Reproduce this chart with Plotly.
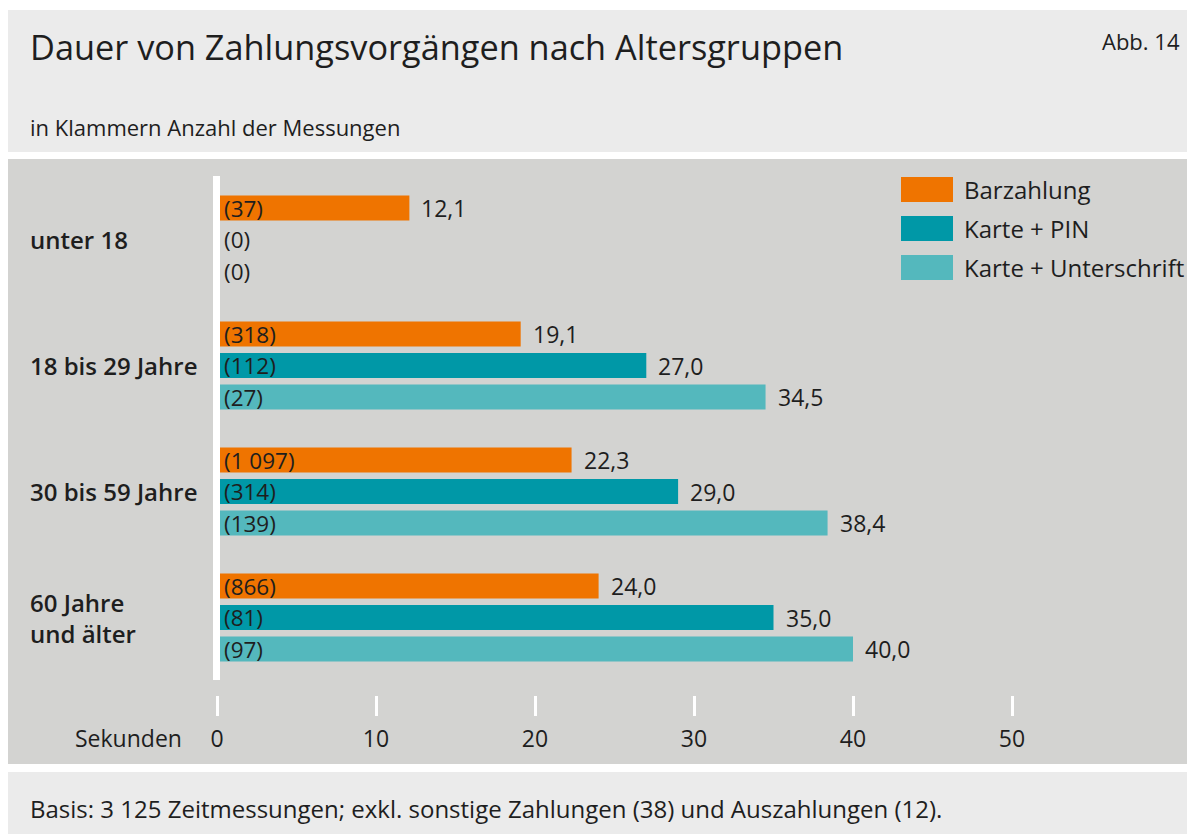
import plotly.graph_objects as go

# ---- data ----
groups = ["unter 18", "18 bis 29 Jahre", "30 bis 59 Jahre", "60 Jahre<br>und älter"]
series = ["Barzahlung", "Karte + PIN", "Karte + Unterschrift"]
values = {
    "Barzahlung": [12.1, 19.1, 22.3, 24.0],
    "Karte + PIN": [0, 27.0, 29.0, 35.0],
    "Karte + Unterschrift": [0, 34.5, 38.4, 40.0],
}
counts = {
    "Barzahlung": ["(37)", "(318)", "(1 097)", "(866)"],
    "Karte + PIN": ["(0)", "(112)", "(314)", "(81)"],
    "Karte + Unterschrift": ["(0)", "(27)", "(139)", "(97)"],
}
colors = {"Barzahlung": "#ef7400", "Karte + PIN": "#0098a7", "Karte + Unterschrift": "#54b8bd"}
x_ticks = [0, 10, 20, 30, 40, 50]

title = "Dauer von Zahlungsvorgängen nach Altersgruppen"
subtitle = "in Klammern Anzahl der Messungen"
fig_no = "Abb. 14"
footer = "Basis: 3 125 Zeitmessungen; exkl. sonstige Zahlungen (38) und Auszahlungen (12)."
axis_title = "Sekunden"

FONT = "Open Sans"
TXT = "#1e1e1e"
W, H = 1187, 834
ML, MR, MT, MB = 217, 16, 159, 834 - 695
PW = W - ML - MR
PH = H - MT - MB
ROW0, ROWH = 208, 31.5  # screen y of first row centre, row pitch


def px(x):
    return (x - ML) / PW


def py(y):
    return (H - MB - y) / PH


fig = go.Figure()

for si, s in enumerate(series):
    ys = [4 * g + si for g in range(len(groups))]
    fig.add_trace(go.Bar(
        x=values[s], y=ys, orientation="h", name=s,
        marker=dict(color=colors[s], line=dict(width=0)),
        width=0.79, showlegend=False, hoverinfo="x+name",
    ))

annotations = []
for si, s in enumerate(series):
    for g in range(len(groups)):
        yv = 4 * g + si
        annotations.append(dict(x=0, y=yv, xref="x", yref="y", text=counts[s][g],
                                xanchor="left", yanchor="middle", xshift=5, showarrow=False,
                                font=dict(family=FONT, size=22.5, color=TXT)))
        v = values[s][g]
        if v > 0:
            annotations.append(dict(x=v, y=yv, xref="x", yref="y",
                                    text=f"{v:.1f}".replace(".", ","),
                                    xanchor="left", yanchor="middle", xshift=10, showarrow=False,
                                    font=dict(family=FONT, size=23, color=TXT)))

for g, name in enumerate(groups):
    annotations.append(dict(x=px(28), y=4 * g + 1, xref="paper", yref="y", text=name,
                            xanchor="left", yanchor="middle", align="left", showarrow=False,
                            font=dict(family=FONT, size=24, color=TXT, weight=600)))

# legend (manual)
shapes = []
for si, s in enumerate(series):
    top = 177 + 39 * si
    shapes.append(dict(type="rect", xref="paper", yref="paper", x0=px(901), x1=px(953),
                       y0=py(top), y1=py(top + 25), fillcolor=colors[s], line=dict(width=0), layer="above"))
    annotations.append(dict(x=px(962), y=py(top + 12.5), xref="paper", yref="paper", text=s,
                            xanchor="left", yanchor="middle", showarrow=False,
                            font=dict(family=FONT, size=24, color=TXT)))

# background bands
shapes.insert(0, dict(type="rect", xref="paper", yref="paper", x0=px(8), x1=px(1187), y0=py(10), y1=py(152),
                      fillcolor="#ebebeb", line=dict(width=0), layer="below"))
shapes.insert(1, dict(type="rect", xref="paper", yref="paper", x0=px(8), x1=px(1187), y0=py(159), y1=py(764),
                      fillcolor="#d3d3d1", line=dict(width=0), layer="below"))
shapes.insert(2, dict(type="rect", xref="paper", yref="paper", x0=px(8), x1=px(1187), y0=py(772), y1=py(834),
                      fillcolor="#ebebeb", line=dict(width=0), layer="below"))
# white baseline
shapes.append(dict(type="rect", xref="paper", yref="paper", x0=px(213), x1=px(220), y0=py(176), y1=py(680),
                   fillcolor="white", line=dict(width=0), layer="above"))

annotations += [
    dict(x=px(28), y=py(46), xref="paper", yref="paper", text=title, xanchor="left", yanchor="middle",
         showarrow=False, font=dict(family=FONT, size=34.3, color=TXT)),
    dict(x=px(1182), y=py(41), xref="paper", yref="paper", text=fig_no, xanchor="right", yanchor="middle",
         showarrow=False, font=dict(family=FONT, size=22, color=TXT)),
    dict(x=px(28), y=py(127), xref="paper", yref="paper", text=subtitle, xanchor="left", yanchor="middle",
         showarrow=False, font=dict(family=FONT, size=22, color=TXT)),
    dict(x=px(28), y=py(808), xref="paper", yref="paper", text=footer, xanchor="left", yanchor="middle",
         showarrow=False, font=dict(family=FONT, size=24, color=TXT)),
    dict(x=px(184), y=py(738), xref="paper", yref="paper", text=axis_title, xanchor="right", yanchor="middle",
         showarrow=False, font=dict(family=FONT, size=23, color=TXT)),
]

fig.update_layout(
    width=W, height=H,
    margin=dict(l=ML, r=MR, t=MT, b=MB, pad=0),
    paper_bgcolor="white", plot_bgcolor="rgba(0,0,0,0)",
    barmode="overlay",
    shapes=shapes, annotations=annotations,
    font=dict(family=FONT, color=TXT),
    xaxis=dict(range=[0, 60], tickvals=x_ticks, ticktext=[str(t) for t in x_ticks],
               ticks="outside", ticklen=20, tickwidth=3, tickcolor="white",
               showgrid=False, zeroline=False, showline=False, ticklabelstandoff=3,
               tickfont=dict(family=FONT, size=23, color=TXT)),
    yaxis=dict(range=[(695 - ROW0) / ROWH, (159 - ROW0) / ROWH], showticklabels=False,
               showgrid=False, zeroline=False, showline=False, ticks=""),
)

fig.write_html(
    "out.html",
    config={"displayModeBar": False},
    post_script="document.body.style.margin='0';document.documentElement.style.overflow='hidden';",
)
